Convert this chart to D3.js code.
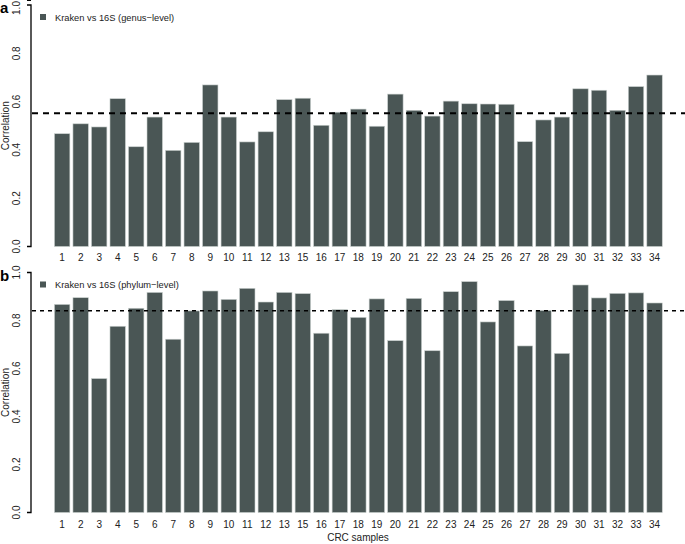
<!DOCTYPE html>
<html>
<head>
<meta charset="utf-8">
<script src="https://cdn.jsdelivr.net/npm/d3@7"></script>
<style>
  body { margin: 0; background: #fff; }
  svg { display: block; font-family: "Liberation Sans", Arial, Helvetica, sans-serif; }
</style>
</head>
<body>
<svg id="chart" width="685" height="544"></svg>
<script>
const samples = ["1","2","3","4","5","6","7","8","9","10","11","12","13","15","16","17","18","19","20","21","22","23","24","25","26","27","28","29","30","31","32","33","34"];
const genusValues = [0.467,0.508,0.495,0.612,0.413,0.536,0.398,0.431,0.669,0.536,0.433,0.475,0.608,0.614,0.502,0.556,0.569,0.498,0.631,0.564,0.540,0.602,0.591,0.590,0.589,0.434,0.524,0.536,0.653,0.647,0.564,0.662,0.710];
const phylumValues = [0.867,0.895,0.558,0.776,0.851,0.917,0.722,0.840,0.923,0.888,0.934,0.877,0.917,0.912,0.747,0.845,0.813,0.890,0.716,0.892,0.674,0.920,0.962,0.794,0.883,0.694,0.842,0.663,0.948,0.894,0.913,0.915,0.873];
const genusMean = 0.552;
const phylumMean = 0.841;
const yTicks = [0, 0.2, 0.4, 0.6, 0.8, 1.0];
const legendLabels = ["Kraken vs 16S (genus\u2212level)", "Kraken vs 16S (phylum\u2212level)"];
const panelLabels = ["a", "b"];

const svg = d3.select("#chart");
const barColor = "#4a5655";

const x = d3.scaleBand().domain(samples).range([52.9, 663.8]).paddingInner(0.2/1.2).paddingOuter(0.1/1.2);

const panels = [
  { vals: genusValues, mean: genusMean, y0: 246.5, y1: 5, label: panelLabels[0], legend: legendLabels[0], dash: "6,5", dw: 2, tickY: 260.5 },
  { vals: phylumValues, mean: phylumMean, y0: 512.5, y1: 272.5, label: panelLabels[1], legend: legendLabels[1], dash: "4,4", dw: 1.5, tickY: 527.5 }
];

panels.forEach(p => {
  const y = d3.scaleLinear().domain([0, 1]).range([p.y0, p.y1]);
  const g = svg.append("g");

  g.selectAll("rect.bar").data(p.vals).enter().append("rect")
    .attr("class", "bar")
    .attr("x", (d, i) => x(samples[i]))
    .attr("width", x.bandwidth())
    .attr("y", d => y(d))
    .attr("height", d => y(0) - y(d))
    .attr("fill", barColor)
    .attr("stroke", "#c9cfcd")
    .attr("stroke-width", 0.6);

  // y axis
  const ax = g.append("g").attr("transform", "translate(31,0)")
    .call(d3.axisLeft(y).tickValues(yTicks).tickFormat(d3.format(".1f")).tickSize(4).tickPadding(0));
  ax.select(".domain").attr("stroke", "#000").attr("stroke-width", 1.3).attr("d", `M-4,${y(0)}H0V${y(1)}H-4`);
  ax.selectAll(".tick line").attr("stroke", "#000").attr("stroke-width", 1.1);
  ax.selectAll(".tick text")
    .attr("x", null).attr("dy", null)
    .attr("text-anchor", "middle")
    .attr("font-size", 10)
    .attr("fill", "#222")
    .attr("transform", function(d) { return `translate(-11,${Math.max(y(d), 8)}) rotate(-90)`; })
    .attr("y", 0);
  ax.selectAll(".tick").attr("transform", null);

  // x tick labels
  g.selectAll("text.xl").data(samples).enter().append("text")
    .attr("class", "xl")
    .attr("x", d => x(d) + x.bandwidth() / 2)
    .attr("y", p.tickY)
    .attr("text-anchor", "middle")
    .attr("font-size", 10)
    .attr("fill", "#222")
    .text(d => d);

  // dashed mean line
  g.append("line")
    .attr("x1", 32).attr("x2", 685)
    .attr("y1", y(p.mean)).attr("y2", y(p.mean))
    .attr("stroke", "#000").attr("stroke-width", p.dw)
    .attr("stroke-dasharray", p.dash);

  // y title
  g.append("text")
    .attr("transform", `translate(8.5,${(p.y0 + p.y1) / 2}) rotate(-90)`)
    .attr("text-anchor", "middle")
    .attr("font-size", 10)
    .attr("fill", "#222")
    .text("Correlation");

  // panel label
  g.append("text")
    .attr("x", 0).attr("y", p.y1 + 8)
    .attr("font-size", 15).attr("font-weight", "bold")
    .text(p.label);

  // legend
  g.append("rect")
    .attr("x", 40).attr("y", p.y1 + 9)
    .attr("width", 6).attr("height", 6)
    .attr("fill", barColor);
  g.append("text")
    .attr("x", 55).attr("y", p.y1 + 15.5)
    .attr("font-size", 9.3)
    .attr("fill", "#222")
    .text(p.legend);
});

svg.append("text")
  .attr("x", 358).attr("y", 541)
  .attr("text-anchor", "middle")
  .attr("font-size", 10)
  .attr("fill", "#222")
  .text("CRC samples");
</script>
</body>
</html>
